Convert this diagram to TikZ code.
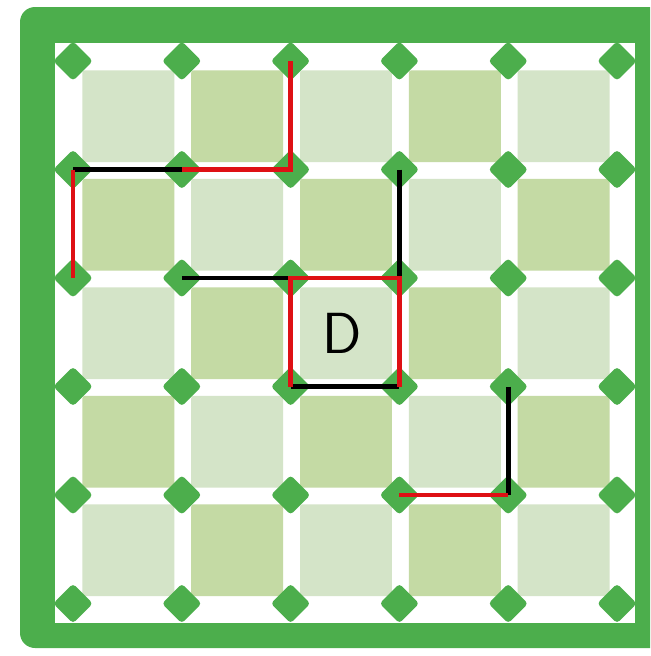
\documentclass[tikz,border=0pt]{standalone}
\usepackage{tikz}
\usepackage{xcolor}

\definecolor{boardgreen}{RGB}{76,174,76}
\definecolor{lightsq}{RGB}{212,228,200}
\definecolor{darksq}{RGB}{196,218,164}
\definecolor{pathred}{RGB}{222,16,20}

\begin{document}
\begin{tikzpicture}[x=0.02cm, y=-0.02cm]
  \def\XO{73}\def\YO{61}\def\DX{108.8}\def\DY{108.5}
  \tikzset{
    cell/.style={draw=none, minimum size=1.84cm, inner sep=0pt, rounded corners=1.5pt},
    dot/.style={draw=none, fill=boardgreen, minimum size=0.56cm, inner sep=0pt, rounded corners=0.07cm, rotate=45},
    redpath/.style={pathred, line width=2.7pt, line join=miter},
    blackpath/.style={black, line width=2.7pt, line join=miter},
    letter/.style={font=\sffamily\fontsize{33}{33}\selectfont},
  }
  \useasboundingbox (0,0) rectangle (650,656);
  %% board frame, cut off at the right edge
  \begin{scope}
    \clip (0,0) rectangle (650,656);
    \fill[boardgreen, rounded corners=0.3cm] (20,7) rectangle (690,648);
  \end{scope}
  \fill[white] (55,43) rectangle (635,623);
  %% checkered cells
  \foreach \i in {0,...,4}{
    \foreach \j in {0,...,4}{
      \pgfmathtruncatemacro\cellpar{mod(\i+\j,2)}
      \ifnum\cellpar=0 \def\sqcol{lightsq}\else\def\sqcol{darksq}\fi
      \node[cell, fill=\sqcol] (c-\i-\j) at ({\XO+(\i+0.5)*\DX+1},{\YO+(\j+0.5)*\DY+1}) {};
    }
  }
  %% grid points
  \foreach \i in {0,...,5}{
    \foreach \j in {0,...,5}{
      \node[dot] (d-\i-\j) at ({\XO+\i*\DX},{\YO+\j*\DY}) {};
    }
  }
  %% walls
  \draw[redpath] (d-2-0.center) -- (d-2-1.center) -- (d-1-1.center);
  \draw[blackpath] (d-1-1.center) -- (d-0-1.center);
  \draw[redpath] (d-0-1.center) -- (d-0-2.center);
  \draw[blackpath] (d-1-2.center) -- (d-2-2.center);
  \draw[blackpath] (d-3-1.center) -- (d-3-2.center);
  \draw[blackpath] (d-2-3.center) -- (d-3-3.center);
  \draw[redpath] (d-2-3.center) -- (d-2-2.center) -- (d-3-2.center) -- (d-3-3.center);
  \draw[blackpath] (d-4-3.center) -- (d-4-4.center);
  \draw[redpath] (d-3-4.center) -- (d-4-4.center);
  \node[letter] (dlabel) at ([xshift=-0.08cm]c-2-2) {D};
\end{tikzpicture}
\end{document}
